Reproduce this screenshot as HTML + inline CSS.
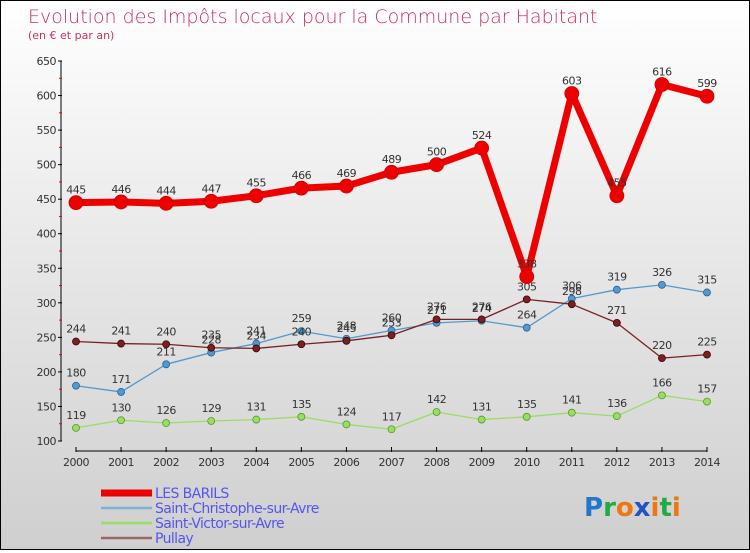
<!DOCTYPE html>
<html><head><meta charset="utf-8"><style>
html,body{margin:0;padding:0}
body{width:750px;height:550px;overflow:hidden;font-family:"DejaVu Sans","Liberation Sans",sans-serif}
#wrap{position:relative;width:748px;height:548px;border:1px solid #000;background:linear-gradient(#ffffff,#e6e6e6 50%,#cfcfcf)}
</style></head><body>
<div id="wrap">
<svg id="chart" width="748" height="548"></svg>
</div>
<script>
const years=[2000,2001,2002,2003,2004,2005,2006,2007,2008,2009,2010,2011,2012,2013,2014];
const yTicks=[100,150,200,250,300,350,400,450,500,550,600,650];
const barils=[445,446,444,447,455,466,469,489,500,524,338,603,455,616,599];
const christophe=[180,171,211,228,241,259,248,260,271,274,264,306,319,326,315];
const victor=[119,130,126,129,131,135,124,117,142,131,135,141,136,166,157];
const pullay=[244,241,240,235,234,240,245,253,276,276,305,298,271,220,225];
const NS='http://www.w3.org/2000/svg';
const svg=document.getElementById('chart');
function X(i){return 75+i*(631/14);}
function Y(v){return 440-(v-100)*380/550;}
function mk(t,a,p){const e=document.createElementNS(NS,t);for(const k in a)e.setAttribute(k,a[k]);(p||svg).appendChild(e);return e;}
let t=mk('text',{x:27,y:22,'font-size':19,fill:'#c8315a','font-family':'DejaVu Sans, sans-serif','font-weight':'200'});
t.textContent='Evolution des Impôts locaux pour la Commune par Habitant';

t=mk('text',{x:27,y:38,'font-size':11,fill:'#c8315a'});t.textContent='(en € et par an)';

// axes
let ax=mk('line',{x1:60,y1:60,x2:60,y2:440,stroke:'#000','stroke-width':1});

yTicks.forEach((v,i)=>{
 mk('line',{x1:57,y1:Y(v),x2:61,y2:Y(v),stroke:'#000'});
 const l=mk('text',{x:55,y:Y(v)+4,'font-size':11,fill:'#333','text-anchor':'end','letter-spacing':'-0.5'});l.textContent=v;
 
 if(i<yTicks.length-1){mk('line',{x1:58,y1:Y(v+25),x2:61,y2:Y(v+25),stroke:'#e00'});}
});
ax=mk('line',{x1:75,y1:450,x2:706,y2:450,stroke:'#000'});

years.forEach((y,i)=>{
 mk('line',{x1:X(i),y1:446,x2:X(i),y2:451,stroke:'#000'});
 const l=mk('text',{x:X(i),y:465,'font-size':11,fill:'#333','text-anchor':'middle','letter-spacing':'-0.5'});l.textContent=y;
 
});
function series(vals,color,w,r,name,dark){
 const g=mk('g',{});
 mk('polyline',{points:vals.map((v,i)=>X(i)+','+Y(v)).join(' '),fill:'none',stroke:color,'stroke-width':w,'stroke-linejoin':'round'},g);
 vals.forEach((v,i)=>{
  const c=mk('circle',{cx:X(i),cy:Y(v),r:r,fill:color,stroke:dark,'stroke-width':0.8},g);
  
  const l=mk('text',{x:X(i),y:Y(v)-9,'font-size':11,fill:'#333','text-anchor':'middle','letter-spacing':'-0.5'},g);l.textContent=v;
 });
}
series(victor,'#99dd66',1.3,3.5,'saint-victor-series','#559922');
series(christophe,'#5599cc',1.3,3.5,'saint-christophe-series','#226699');
series(pullay,'#772222',1.3,3.5,'pullay-series','#440000');
series(barils,'#ee0000',7,7,'les-barils-series','#cc0000');
// legend
const leg=[['LES BARILS','#ee0000',7],['Saint-Christophe-sur-Avre','#7fb0d8',2.5],['Saint-Victor-sur-Avre','#99dd66',2.5],['Pullay','#996666',2.5]];
leg.forEach((e,i)=>{
 const g=mk('g',{});
 const y=492+i*15;
 mk('line',{x1:100,y1:y,x2:151,y2:y,stroke:e[1],'stroke-width':e[2]},g);
 const l=mk('text',{x:154,y:y+5,'font-size':14,fill:'#5555ee','letter-spacing':'-0.6'},g);l.textContent=e[0];
});
// logo
const lg=mk('text',{x:583,y:515,'font-size':26,'font-weight':'bold','font-family':'DejaVu Sans, sans-serif'});

[['P','#2277cc'],['r','#22aa44'],['o','#ee7711'],['x','#2255bb'],['i','#ee7711'],['t','#22aa44'],['i','#ee7711']].forEach(p=>{const s=mk('tspan',{fill:p[1]},lg);s.textContent=p[0];});
</script>
</body></html>
